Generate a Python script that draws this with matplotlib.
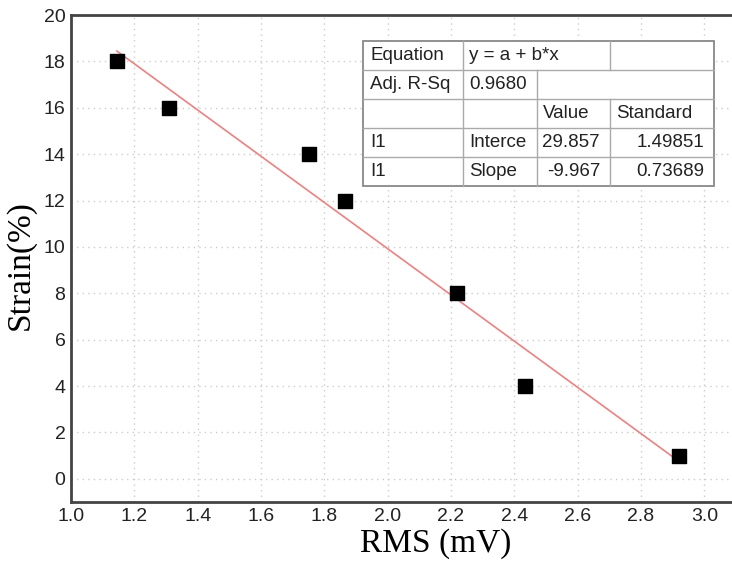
import matplotlib
matplotlib.use("Agg")
import matplotlib.pyplot as plt
from matplotlib.patches import Rectangle
import numpy as np

rms = [1.145, 1.31, 1.75, 1.865, 2.22, 2.435, 2.92]
strain = [18, 16, 14, 12, 8, 4, 1]
intercept = 29.857
slope = -9.967
xticks = [1.0, 1.2, 1.4, 1.6, 1.8, 2.0, 2.2, 2.4, 2.6, 2.8, 3.0]
yticks = [0, 2, 4, 6, 8, 10, 12, 14, 16, 18, 20]
table_rows = [
    ["Equation", "y = a + b*x", "", ""],
    ["Adj. R-Sq", "0.9680", "", ""],
    ["", "", "Value", "Standard"],
    ["I1", "Interce", "29.857", "1.49851"],
    ["I1", "Slope", "-9.967", "0.73689"],
]

W, H = 732, 567
AX_L, AX_R, AX_T, AX_B = 71, 736, 15, 502
fig = plt.figure(figsize=(W / 100, H / 100), dpi=100)
ax = fig.add_axes([AX_L / W, (H - AX_B) / H, (AX_R - AX_L) / W, (AX_B - AX_T) / H])


def px(x, y):
    """pixel (from top-left) -> axes fraction"""
    return (x - AX_L) / (AX_R - AX_L), (AX_B - y) / (AX_B - AX_T)


ax.set_xlim(1.0, 3.1)
ax.set_ylim(-1, 20)
ax.set_xticks(xticks)
ax.set_yticks(yticks)
ax.set_xticklabels([f"{v:.1f}" for v in xticks])
ax.set_yticklabels([str(v) for v in yticks])
ax.tick_params(length=0, labelsize=14, colors="#222222", pad=4)
for lab in ax.get_xticklabels() + ax.get_yticklabels():
    lab.set_fontfamily("Liberation Sans")

ax.grid(True, linestyle=(0, (1, 3)), color="#cccccc", linewidth=1.0)
ax.set_axisbelow(True)

for s in ["left", "bottom", "top"]:
    ax.spines[s].set_color("#444444")
    ax.spines[s].set_linewidth(2.0)
ax.spines["right"].set_visible(False)

xf = np.array([min(rms), max(rms)])
ax.plot(xf, intercept + slope * xf, color="#f08080", linewidth=1.2, zorder=2)
ax.scatter(rms, strain, marker="s", s=90, color="black", zorder=3)

ax.set_xlabel("RMS (mV)", fontfamily="Liberation Serif", fontsize=24, va="center")
ax.set_ylabel("Strain(%)", fontfamily="Liberation Serif", fontsize=24, va="center")
ax.xaxis.set_label_coords(*px(436, 544))
ax.yaxis.set_label_coords(*px(20, 265))

# ---- table drawn manually ----
tx = [363, 463, 537, 610, 714]
ty = [41, 70, 99, 128, 157, 186]
tr = ax.transAxes
x0, y0 = px(tx[0], ty[-1])
x1, y1 = px(tx[-1], ty[0])
ax.add_patch(Rectangle((x0, y0), x1 - x0, y1 - y0, transform=tr,
                       facecolor="white", edgecolor="#888888", linewidth=1.3, zorder=5))
lc = "#aaaaaa"
for yy in ty[1:-1]:
    a, b = px(tx[0], yy)
    c, d = px(tx[-1], yy)
    ax.plot([a, c], [b, d], transform=tr, color=lc, linewidth=1.0, zorder=6)
# vertical separators: (x index, first row, last row)
vsegs = [(1, 0, 5), (2, 1, 5), (3, 0, 1), (3, 2, 5)]
for xi, r0, r1 in vsegs:
    a, b = px(tx[xi], ty[r0])
    c, d = px(tx[xi], ty[r1])
    ax.plot([a, c], [b, d], transform=tr, color=lc, linewidth=1.0, zorder=6)

right_cells = {(3, 2), (4, 2), (3, 3), (4, 3)}
for r, row in enumerate(table_rows):
    yc = (ty[r] + ty[r + 1]) / 2
    for c, txt in enumerate(row):
        if not txt:
            continue
        if (r, c) in right_cells:
            xx, ha = tx[c + 1] - 10, "right"
        else:
            xx, ha = tx[c] + (7 if c == 0 else 6), "left"
        ax.text(*px(xx, yc), txt, transform=tr, ha=ha, va="center",
                fontsize=13.5, fontfamily="Liberation Sans", color="#222222", zorder=7)

fig.savefig("out.png", dpi=100)
